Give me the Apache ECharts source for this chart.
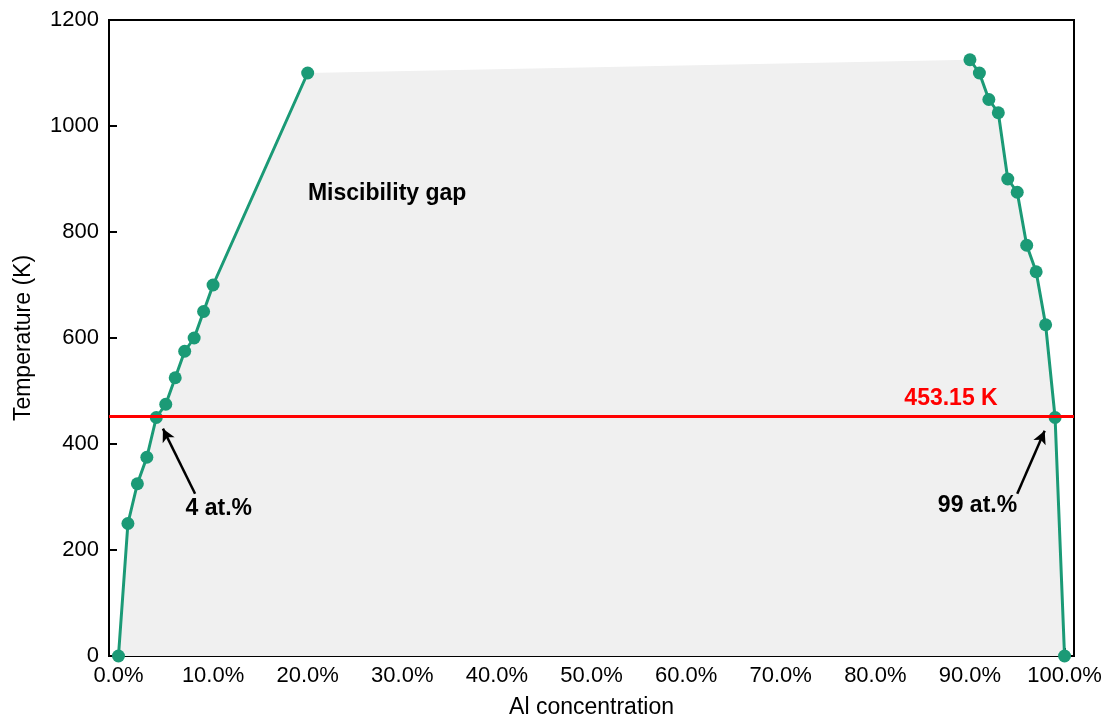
<!DOCTYPE html>
<html>
<head>
<meta charset="utf-8">
<script src="https://cdn.jsdelivr.net/npm/echarts@6/dist/echarts.min.js"></script>
<style>html,body{margin:0;padding:0;background:#fff}#c{width:1110px;height:721px}</style>
</head>
<body>
<div id="c"></div>
<script>
// Left branch (Al concentration %, Temperature K)
var leftX = [0, 1, 2, 3, 4, 5, 6, 7, 8, 9, 10, 20];
var leftY = [0, 250, 325, 375, 450, 475, 525, 575, 600, 650, 700, 1100];
// Right branch
var rightX = [90, 91, 92, 93, 94, 95, 96, 97, 98, 99, 100];
var rightY = [1125, 1100, 1050, 1025, 900, 875, 775, 725, 625, 450, 0];
// Reference temperature
var refTemp = 453.15;
var refLabel = '453.15 K';
// Tick labels
var xTicks = [0, 10, 20, 30, 40, 50, 60, 70, 80, 90, 100];
var yTicks = [0, 200, 400, 600, 800, 1000, 1200];
// Annotations (data coords)
var gapText = 'Miscibility gap';
var gapPos = [28.4, 873];
var leftNote = '4 at.%';
var leftNotePos = [10.6, 278];
var leftArrow = [[8.1, 306], [4.7, 429]];
var rightNote = '99 at.%';
var rightNotePos = [90.8, 284];
var rightArrow = [[95.0, 306], [97.9, 425]];
var refLabelPos = [88.0, 486];

var leftData = leftX.map(function (x, i) { return [x, leftY[i]]; });
var rightData = rightX.map(function (x, i) { return [x, rightY[i]]; });
var outline = leftData.concat(rightData);

var FONT = 'Liberation Sans, Arial, sans-serif';
var GREEN = '#1b9a76';

var chart = echarts.init(document.getElementById('c'), null, { renderer: 'canvas' });
chart.setOption({
  animation: false,
  grid: { left: 109, right: 36, top: 20, bottom: 65, containLabel: false, outerBoundsMode: 'none',
    show: true, borderColor: '#000', borderWidth: 2, backgroundColor: 'transparent' },
  xAxis: {
    type: 'value', min: -1, max: 101,
    name: 'Al concentration', nameLocation: 'middle', nameGap: 40,
    nameTextStyle: { fontFamily: FONT, fontSize: 23, color: '#000' },
    axisLine: { show: true, onZero: false, lineStyle: { color: '#000', width: 2 } },
    axisTick: { show: true, inside: true, length: 8, customValues: xTicks, lineStyle: { color: '#000', width: 2 } },
    axisLabel: { customValues: xTicks, fontFamily: FONT, fontSize: 22, color: '#000', margin: 9,
      formatter: function (v) { return v.toFixed(1) + '%'; } },
    splitLine: { show: false }
  },
  yAxis: {
    type: 'value', min: 0, max: 1200, interval: 200,
    name: 'Temperature (K)', nameLocation: 'middle', nameGap: 74, nameRotate: 90,
    nameTextStyle: { fontFamily: FONT, fontSize: 23, color: '#000' },
    axisLine: { show: true, onZero: false, lineStyle: { color: '#000', width: 2 } },
    axisTick: { show: true, inside: true, length: 8, lineStyle: { color: '#000', width: 2 } },
    axisLabel: { fontFamily: FONT, fontSize: 22, color: '#000', margin: 10,
      formatter: function (v) { return String(v); } },
    splitLine: { show: false }
  },
  series: [
    {
      type: 'line', data: outline, symbol: 'none', silent: true,
      lineStyle: { width: 0, opacity: 0 },
      areaStyle: { color: '#f0f0f0', opacity: 1, origin: 'start' },
      z: 1,
      markLine: {
        silent: true, symbol: ['none', 'none'],
        lineStyle: { color: '#ff0000', width: 3, type: 'solid' },
        label: { show: false },
        data: [{ yAxis: refTemp }]
      }
    },
    {
      type: 'line', data: leftData, symbol: 'circle', symbolSize: 13,
      lineStyle: { color: GREEN, width: 3 }, itemStyle: { color: GREEN }, z: 3
    },
    {
      type: 'line', data: rightData, symbol: 'circle', symbolSize: 13,
      lineStyle: { color: GREEN, width: 3 }, itemStyle: { color: GREEN }, z: 3,
      markLine: {
        silent: true, symbol: ['none', 'arrow'], symbolSize: [10, 13],
        lineStyle: { color: '#000', width: 2.5, type: 'solid' },
        label: { show: false },
        data: [
          [{ coord: leftArrow[0] }, { coord: leftArrow[1] }],
          [{ coord: rightArrow[0] }, { coord: rightArrow[1] }]
        ]
      },
      markPoint: {
        silent: true, symbol: 'circle', symbolSize: 0,
        label: { show: true, position: 'inside', fontFamily: FONT, fontSize: 23, fontWeight: 'bold', color: '#000' },
        data: [
          { coord: gapPos, value: gapText, label: { formatter: gapText } },
          { coord: leftNotePos, value: leftNote, label: { formatter: leftNote } },
          { coord: rightNotePos, value: rightNote, label: { formatter: rightNote } },
          { coord: refLabelPos, value: refLabel, label: { formatter: refLabel, color: '#ff0000' } }
        ]
      }
    }
  ]
});
</script>
</body>
</html>
